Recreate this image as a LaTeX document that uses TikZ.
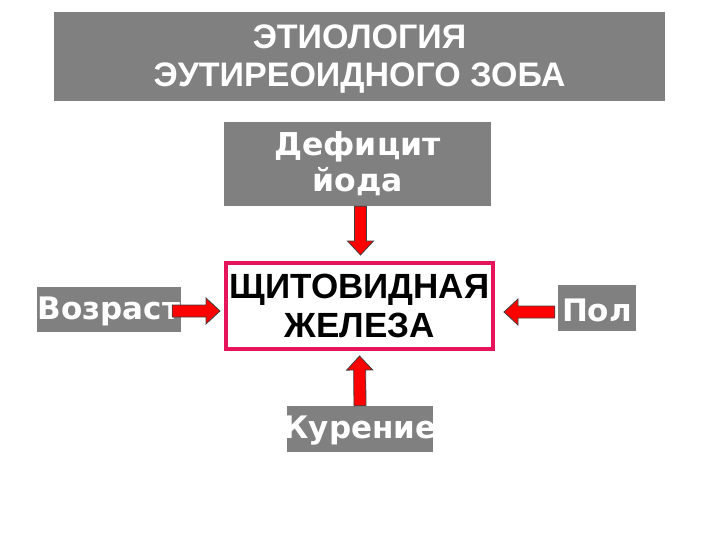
\documentclass[tikz,border=0pt]{standalone}
\usepackage{fontspec}
\setmainfont{Liberation Sans}
\newfontfamily\dejavu{DejaVu Sans}
\usetikzlibrary{calc}
\definecolor{boxgray}{RGB}{128,128,128}
\definecolor{crimson}{RGB}{230,20,90}
\definecolor{arrred}{RGB}{255,0,0}
\tikzset{
  graybox/.style={fill=boxgray, draw=none, inner sep=0pt},
  wtxt/.style={text=white, font=\dejavu\bfseries\fontsize{31}{36}\selectfont, inner sep=0pt, align=center, yshift=-2pt},
  titletxt/.style={text=white, font=\bfseries\fontsize{34}{38}\selectfont, inner sep=0pt, align=center, yshift=-3pt},
  thytxt/.style={text=black, font=\bfseries\fontsize{35}{39}\selectfont, inner sep=0pt, align=center},
  arrowstyle/.style={fill=arrred, draw=black!75, line width=0.8pt, line join=miter},
}
\newcommand\blockarrow[2]{%
  \path[arrowstyle] let \p1=(#1), \p2=(#2),
    \n1={veclen(\x2-\x1,\y2-\y1)}, \n2={atan2(\y2-\y1,\x2-\x1)} in
    [shift={(\p1)}, rotate=\n2]
    (0pt,-6pt) -- (\n1*1pt-14pt,-6pt) -- (\n1*1pt-14pt,-13pt) -- (\n1*1pt,0pt)
    -- (\n1*1pt-14pt,13pt) -- (\n1*1pt-14pt,6pt) -- (0pt,6pt) -- cycle;}
\begin{document}
\begin{tikzpicture}[x=1pt,y=-1pt]
\useasboundingbox (0,0) rectangle (720,540);
% title
\node[graybox, minimum width=611pt, minimum height=89pt,
  label={[titletxt]center:{ЭТИОЛОГИЯ\\ЭУТИРЕОИДНОГО ЗОБА}}] (title) at (359.5,56.5) {};
% deficit
\node[graybox, minimum width=267pt, minimum height=84pt,
  label={[wtxt,yshift=2pt,font=\dejavu\bfseries\fontsize{31.5}{36}\selectfont]center:{Дефицит\\йода}}] (def) at (357.5,164) {};
% thyroid
\node[draw=crimson, line width=4pt, fill=white, minimum width=267pt, minimum height=86pt, inner sep=0pt,
  label={[thytxt]center:{ЩИТОВИДНАЯ\\ЖЕЛЕЗА}}] (thy) at (359.5,306) {};
% age
\node[graybox, minimum width=144pt, minimum height=45pt,
  label={[wtxt]center:Возраст}] (age) at (109,309.5) {};
% sex
\node[graybox, minimum width=78pt, minimum height=46pt,
  label={[wtxt]center:Пол}] (sex) at (597,308) {};
% smoking
\node[graybox, minimum width=146pt, minimum height=46pt,
  label={[wtxt]center:Курение}] (smk) at (360,429) {};
% arrows
\coordinate (a1s) at ($(def.south -| thy.north)+(1,0)$);
\coordinate (a1e) at ($(thy.north)+(1,-6)$);
\coordinate (a2s) at ($(smk.north)$);
\coordinate (a2e) at ($(thy.south)+(0,5)$);
\coordinate (a3s) at ($(age.east)+(-9,1.5)$);
\coordinate (a3e) at ($(thy.west |- a3s)+(-4,0)$);
\coordinate (a4s) at ($(sex.west)+(-3,4)$);
\coordinate (a4e) at ($(thy.east |- a4s)+(9,0)$);
\blockarrow{a1s}{a1e}
\blockarrow{a2s}{a2e}
\blockarrow{a3s}{a3e}
\blockarrow{a4s}{a4e}
\end{tikzpicture}
\end{document}
